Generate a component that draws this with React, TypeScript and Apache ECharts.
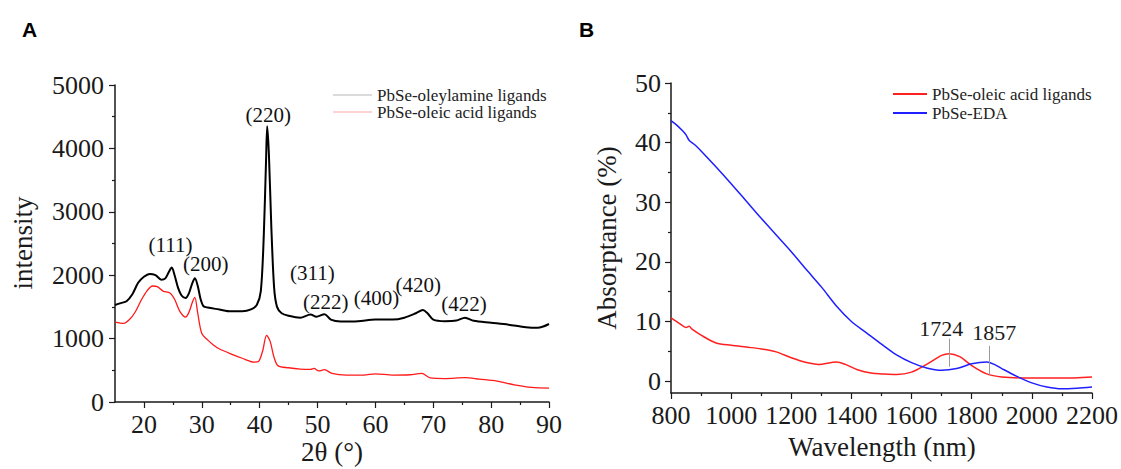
import React, { useEffect, useRef } from "react";
import * as echarts from "echarts";

// ---------- Panel A: XRD ----------
const xrdOleylamineX = [15, 16, 17, 18, 19, 20, 21, 22, 23, 23.7, 24.3, 24.8, 25.3, 25.9, 26.5, 27.2, 27.8, 28.3, 28.8, 29.3, 29.8, 30.3, 31, 33, 35, 37, 38.5, 39.5, 40.2, 40.7, 41.1, 41.3, 41.6, 42.0, 42.5, 43.0, 43.8, 45, 47, 48.8, 49.8, 51.2, 52.3, 54, 57, 60, 63, 65, 67, 68.2, 69, 70, 72, 74, 75.5, 77, 80, 83, 86, 88, 89, 90];
const xrdOleylamineY = [1530, 1560, 1590, 1700, 1880, 1975, 2020, 2000, 1930, 1950, 2050, 2120, 2000, 1800, 1680, 1640, 1720, 1860, 1950, 1830, 1620, 1510, 1490, 1460, 1430, 1430, 1460, 1530, 1750, 2600, 3800, 4350, 3900, 2800, 1800, 1500, 1400, 1360, 1330, 1380, 1345, 1385, 1300, 1270, 1275, 1300, 1300, 1330, 1400, 1450, 1400, 1300, 1275, 1285, 1330, 1280, 1250, 1220, 1180, 1170, 1190, 1230];

const xrdOleicX = [15, 16.5, 17.5, 18.5, 19.5, 20.5, 21.5, 22.3, 23.3, 24.5, 25.3, 26.2, 27.2, 27.8, 28.4, 28.8, 29.3, 30, 31, 32, 33, 35, 37, 39, 39.8, 40.5, 41.2, 41.8, 42.5, 43.2, 45, 47, 48.8, 49.4, 50.2, 51.2, 52.5, 55, 58, 60, 63, 66, 68, 69.5, 72, 75.5, 78, 81, 84, 87, 90];
const xrdOleicY = [1260, 1240, 1300, 1420, 1600, 1750, 1830, 1820, 1750, 1720, 1620, 1430, 1340, 1420, 1580, 1650, 1400, 1080, 980, 900, 840, 760, 690, 630, 640, 800, 1050, 960, 700, 570, 540, 520, 515, 530, 490, 510, 450, 425, 425, 445, 425, 430, 450, 380, 370, 385, 360, 330, 270, 230, 220];

const xrdPeakNames = ["(111)", "(200)", "(220)", "(311)", "(222)", "(400)", "(420)", "(422)"];
const xrdPeakX = [24.6, 30.7, 41.5, 49.1, 51.4, 60.2, 67.4, 75.3];
const xrdPeakY = [2480, 2180, 4520, 2040, 1570, 1640, 1850, 1550];

const xrdMajorTicks = [20, 30, 40, 50, 60, 70, 80, 90];
const xrdMinorTicks = [25, 35, 45, 55, 65, 75, 85];

// ---------- Panel B: absorptance ----------
const absOleicX = [800, 830, 850, 860, 870, 900, 950, 1000, 1050, 1100, 1150, 1200, 1250, 1290, 1350, 1380, 1420, 1470, 1500, 1550, 1600, 1650, 1700, 1724, 1760, 1800, 1850, 1900, 2000, 2100, 2200];
const absOleicY = [10.6, 9.6, 9.0, 9.2, 8.7, 7.7, 6.4, 6.0, 5.7, 5.4, 4.9, 3.9, 3.1, 2.8, 3.2, 2.8, 1.9, 1.3, 1.2, 1.1, 1.5, 2.8, 4.3, 4.6, 4.1, 2.6, 1.2, 0.7, 0.5, 0.5, 0.7];

const absEdaX = [800, 820, 840, 850, 860, 880, 900, 950, 1000, 1050, 1100, 1150, 1200, 1250, 1300, 1350, 1400, 1450, 1500, 1550, 1600, 1650, 1700, 1750, 1800, 1850, 1875, 1900, 1950, 2000, 2050, 2100, 2150, 2200];
const absEdaY = [43.7, 42.9, 41.9, 41.3, 40.4, 39.6, 38.6, 35.9, 33.1, 30.2, 27.3, 24.5, 21.7, 18.7, 15.8, 12.6, 10.0, 8.1, 6.2, 4.4, 3.1, 2.2, 1.8, 2.1, 2.9, 3.2, 2.8, 2.1, 0.8, -0.3, -1.0, -1.3, -1.2, -1.0];

const absMajorTicks = [0, 10, 20, 30, 40, 50];
const absMinorTicks = [5, 15, 25, 35, 45];
const absPeakNames = ["1724", "1857"];
const absPeakX = [1724, 1857];
const absPeakLow = [2.4, 1.05];
const absPeakHigh = [7.1, 5.9];
const absPeakLabelX = [1699, 1875];
const absPeakLabelY = [8.9, 8.1];

const zip = (xs: number[], ys: number[]) => xs.map((x, i) => [x, ys[i]]);

const SERIF = "Liberation Serif";
const AXIS_COLOR = "#1a1a1a";
const plain = (v: number) => String(v);

export default function App() {
  const ref = useRef<HTMLDivElement>(null);

  useEffect(() => {
    document.body.style.margin = "0";
    if (!ref.current) return;
    const chart = echarts.init(ref.current, undefined, { renderer: "svg" });

    const axisLine = { onZero: false, lineStyle: { color: AXIS_COLOR, width: 1.5 } };
    const tickLine = { color: AXIS_COLOR, width: 1.2 };
    const labelStyle = { fontFamily: SERIF, fontSize: 26, color: AXIS_COLOR, formatter: plain };
    const titleStyle = { fontFamily: SERIF, fontSize: 27, fill: AXIS_COLOR, align: "center", verticalAlign: "middle" };
    const markLineBase = {
      symbol: "none", silent: true,
      lineStyle: { color: "#9a9a9a", width: 1, type: "solid" },
      label: { show: false },
    };

    const option: any = {
      animation: false,
      textStyle: { fontFamily: SERIF },
      grid: [
        { left: 115, top: 85, width: 434, height: 317 },
        { left: 671, top: 83, width: 422, height: 310 },
      ],
      xAxis: [
        {
          gridIndex: 0, type: "value", min: 15, max: 90, position: "bottom",
          axisLine,
          axisTick: { customValues: xrdMajorTicks, length: 6, lineStyle: tickLine },
          axisLabel: { customValues: xrdMajorTicks, margin: 9, ...labelStyle },
          splitLine: { show: false },
        },
        {
          gridIndex: 0, type: "value", min: 15, max: 90, position: "bottom",
          axisLine: { show: false, onZero: false },
          axisTick: { customValues: xrdMinorTicks, length: 3, lineStyle: tickLine },
          axisLabel: { show: false },
          splitLine: { show: false },
        },
        {
          gridIndex: 1, type: "value", min: 800, max: 2200, interval: 200, position: "bottom",
          axisLine,
          axisTick: { length: 6, lineStyle: tickLine },
          minorTick: { show: true, splitNumber: 2, length: 3, lineStyle: tickLine },
          axisLabel: { margin: 9, ...labelStyle },
          splitLine: { show: false },
          minorSplitLine: { show: false },
        },
      ],
      yAxis: [
        {
          gridIndex: 0, type: "value", min: 0, max: 5000, interval: 1000, position: "left",
          axisLine,
          axisTick: { length: 6, lineStyle: tickLine },
          minorTick: { show: true, splitNumber: 2, length: 3, lineStyle: tickLine },
          axisLabel: { margin: 11, ...labelStyle },
          splitLine: { show: false },
          minorSplitLine: { show: false },
        },
        {
          gridIndex: 1, type: "value", min: -2, max: 50, position: "left",
          axisLine,
          axisTick: { customValues: absMajorTicks, length: 6, lineStyle: tickLine },
          axisLabel: { customValues: absMajorTicks, margin: 10, ...labelStyle },
          splitLine: { show: false },
        },
        {
          gridIndex: 1, type: "value", min: -2, max: 50, position: "left",
          axisLine: { show: false, onZero: false },
          axisTick: { customValues: absMinorTicks, length: 3, lineStyle: tickLine },
          axisLabel: { show: false },
          splitLine: { show: false },
        },
      ],
      legend: [
        {
          left: 333, top: 86.5, orient: "vertical", itemGap: 0, padding: 0,
          icon: "rect", itemWidth: 39, itemHeight: 1.2, selectedMode: false,
          textStyle: { fontFamily: SERIF, fontSize: 17, lineHeight: 17, color: "#222" },
          data: [
            { name: "PbSe-oleylamine ligands", itemStyle: { color: "#b8b8b8" } },
            { name: "PbSe-oleic acid ligands", itemStyle: { color: "#f7a8a8" } },
          ],
        },
        {
          left: 893, top: 84.5, orient: "vertical", itemGap: 0, padding: 0,
          icon: "rect", itemWidth: 34, itemHeight: 1.8, selectedMode: false,
          textStyle: { fontFamily: SERIF, fontSize: 17, lineHeight: 19, color: "#222" },
          data: [
            { name: "PbSe-oleic acid ligands", itemStyle: { color: "#ff2020" } },
            { name: "PbSe-EDA", itemStyle: { color: "#1f1fff" } },
          ],
        },
      ],
      graphic: [
        { type: "text", left: 22, top: 19, style: { text: "A", fontFamily: "Liberation Sans", fontWeight: "bold", fontSize: 21, fill: "#000" } },
        { type: "text", left: 579, top: 19, style: { text: "B", fontFamily: "Liberation Sans", fontWeight: "bold", fontSize: 21, fill: "#000" } },
        { type: "text", x: 332, y: 452, style: { text: "2θ (°)", ...titleStyle } },
        { type: "text", x: 23, y: 243, rotation: Math.PI / 2, style: { text: "intensity", ...titleStyle } },
        { type: "text", x: 882, y: 447, style: { text: "Wavelength (nm)", ...titleStyle } },
        { type: "text", x: 607, y: 238, rotation: Math.PI / 2, style: { text: "Absorptance (%)", ...titleStyle } },
      ],
      series: [
        {
          name: "PbSe-oleic acid ligands", type: "line", xAxisIndex: 0, yAxisIndex: 0,
          data: zip(xrdOleicX, xrdOleicY), showSymbol: false, smooth: 0.3,
          lineStyle: { color: "#ff1a1a", width: 1.3 }, itemStyle: { color: "#ff1a1a" },
        },
        {
          name: "PbSe-oleylamine ligands", type: "line", xAxisIndex: 0, yAxisIndex: 0,
          data: zip(xrdOleylamineX, xrdOleylamineY), showSymbol: false, smooth: 0.3,
          lineStyle: { color: "#000", width: 2 }, itemStyle: { color: "#000" },
        },
        {
          name: "peaks", type: "scatter", xAxisIndex: 0, yAxisIndex: 0,
          symbolSize: 0, silent: true,
          itemStyle: { opacity: 1 },
          data: xrdPeakNames.map((n, i) => ({ name: n, value: [xrdPeakX[i], xrdPeakY[i]] })),
          label: { show: true, position: "inside", formatter: "{b}", fontFamily: SERIF, fontSize: 21, color: "#111", opacity: 1, textBorderWidth: 0 },
        },
        {
          name: "PbSe-oleic acid ligands", type: "line", xAxisIndex: 2, yAxisIndex: 1,
          data: zip(absOleicX, absOleicY), showSymbol: false, smooth: 0.3,
          lineStyle: { color: "#ff2020", width: 1.5 }, itemStyle: { color: "#ff2020" },
          markLine: {
            ...markLineBase,
            data: [[{ coord: [absPeakX[0], absPeakLow[0]] }, { coord: [absPeakX[0], absPeakHigh[0]] }]],
          },
        },
        {
          name: "PbSe-EDA", type: "line", xAxisIndex: 2, yAxisIndex: 1,
          data: zip(absEdaX, absEdaY), showSymbol: false, smooth: 0.3,
          lineStyle: { color: "#1f1fff", width: 1.5 }, itemStyle: { color: "#1f1fff" },
          markLine: {
            ...markLineBase,
            data: [[{ coord: [absPeakX[1], absPeakLow[1]] }, { coord: [absPeakX[1], absPeakHigh[1]] }]],
          },
        },
        {
          name: "absPeaks", type: "scatter", xAxisIndex: 2, yAxisIndex: 1,
          symbolSize: 0, silent: true,
          itemStyle: { opacity: 1 },
          data: absPeakNames.map((n, i) => ({ name: n, value: [absPeakLabelX[i], absPeakLabelY[i]] })),
          label: { show: true, position: "inside", formatter: "{b}", fontFamily: SERIF, fontSize: 22, color: "#1a1a1a", opacity: 1, textBorderWidth: 0 },
        },
      ],
    };

    chart.setOption(option);
    return () => chart.dispose();
  }, []);

  return <div ref={ref} style={{ width: 1121, height: 469 }} />;
}
